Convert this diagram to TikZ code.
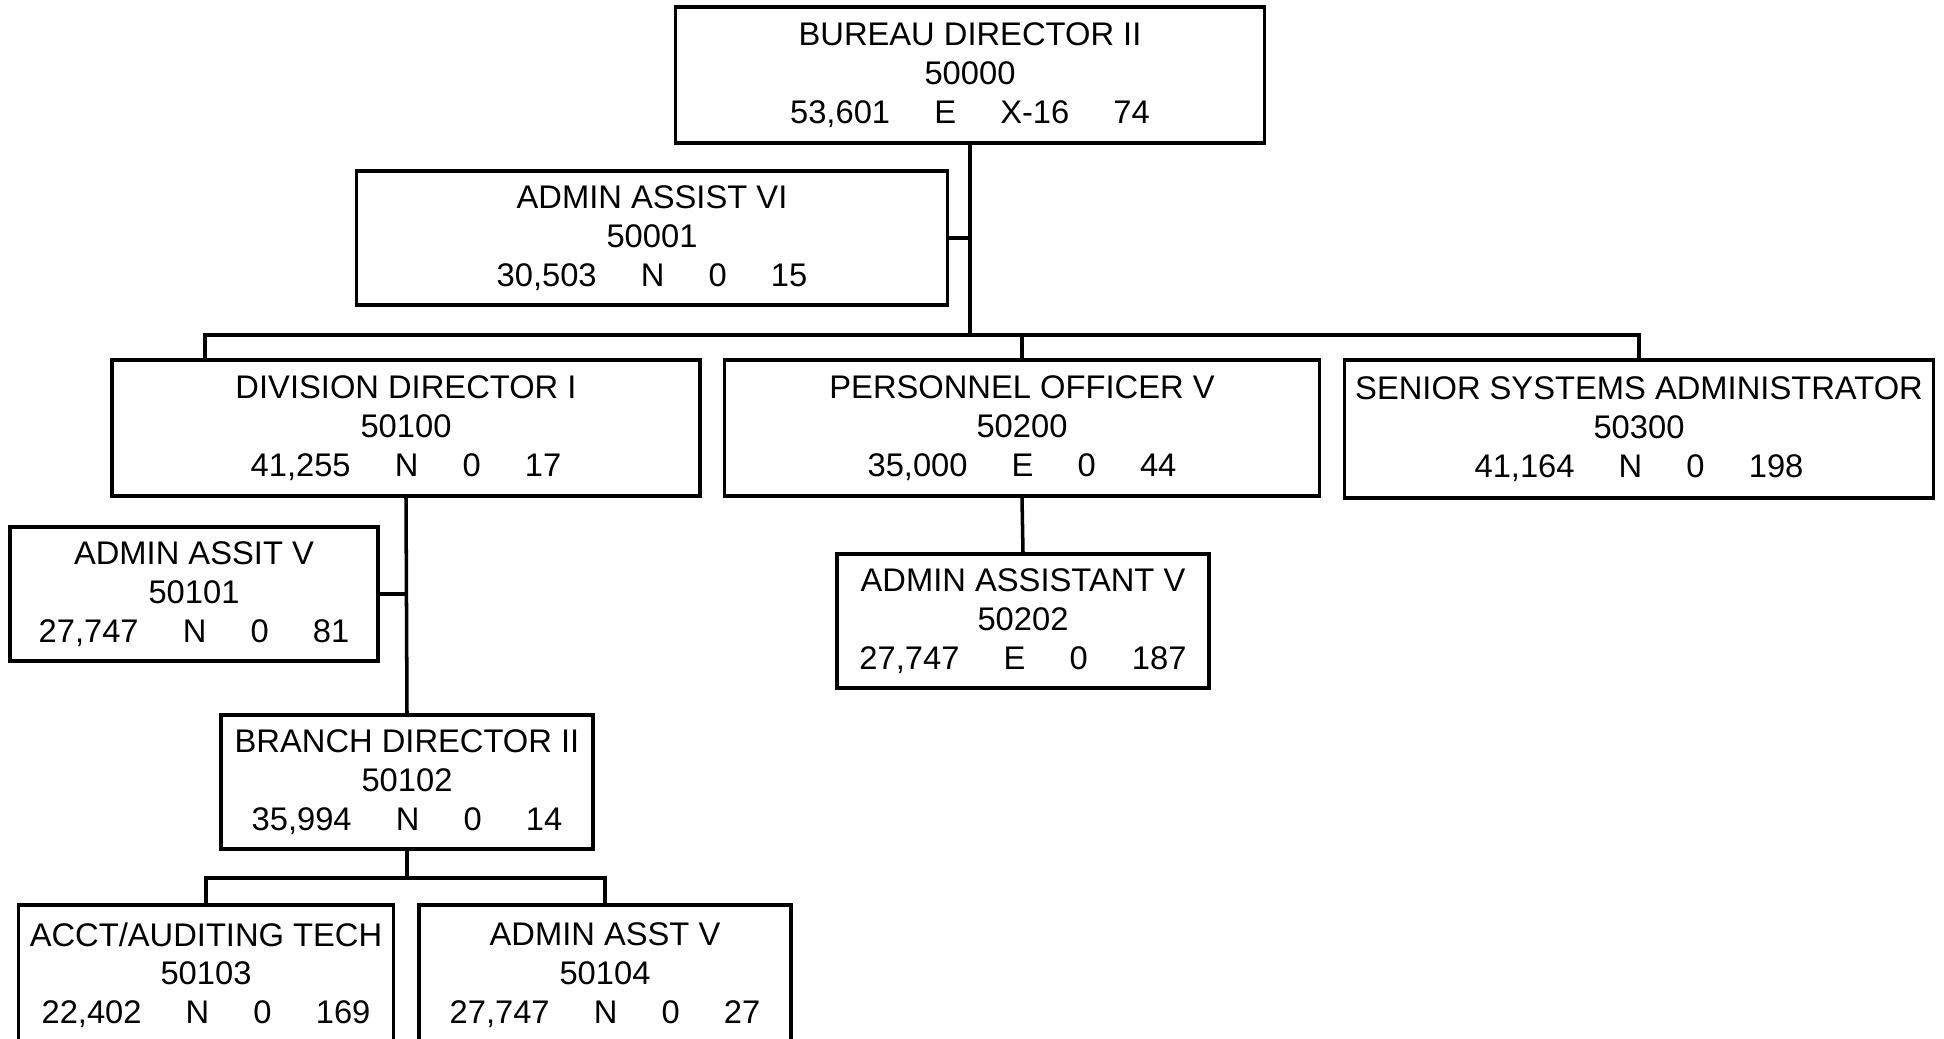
\documentclass[tikz,border=0pt]{standalone}
\usepackage{fontspec}
\setmainfont{Liberation Sans}
\usetikzlibrary{positioning}
\tikzstyle{posbox} = [draw, line width=1pt, inner sep=0pt, align=center, font=\fontsize{9.3}{11}\selectfont]
\tikzstyle{link} = [line width=1pt]
\newcommand{\posline}[4]{#1\hspace{1.35em}#2\hspace{1.35em}#3\hspace{1.35em}#4}

\begin{document}
\begin{tikzpicture}[x=0.01cm, y=-0.01cm]
\useasboundingbox (0,0) rectangle (1944,1039);

% Top of the bureau
\node[posbox, minimum width=5.89cm, minimum height=1.36cm] (bureau) at (970,75)
  {BUREAU DIRECTOR II\\50000\\\posline{53,601}{E}{X-16}{74}};
\node[posbox, minimum width=5.91cm, minimum height=1.34cm] (adminsix) at (652,238)
  {ADMIN ASSIST VI\\50001\\\posline{30,503}{N}{0}{15}};

% Second row
\node[posbox, minimum width=5.88cm, minimum height=1.36cm] (division) at (406,428)
  {DIVISION DIRECTOR I\\50100\\\posline{41,255}{N}{0}{17}};
\node[posbox, minimum width=5.95cm, minimum height=1.36cm] (personnel) at (1022,428)
  {PERSONNEL OFFICER V\\50200\\\posline{35,000}{E}{0}{44}};
\node[posbox, minimum width=5.89cm, minimum height=1.38cm] (senior) at (1639,429)
  {SENIOR SYSTEMS ADMINISTRATOR\\50300\\\posline{41,164}{N}{0}{198}};

% Under the divisions
\node[posbox, minimum width=3.68cm, minimum height=1.34cm] (admindiv) at (194,594)
  {ADMIN ASSIT V\\50101\\\posline{27,747}{N}{0}{81}};
\node[posbox, minimum width=3.72cm, minimum height=1.34cm] (adminpers) at (1023,621)
  {ADMIN ASSISTANT V\\50202\\\posline{27,747}{E}{0}{187}};
\node[posbox, minimum width=3.72cm, minimum height=1.34cm] (branch) at (407,782)
  {BRANCH DIRECTOR II\\50102\\\posline{35,994}{N}{0}{14}};

% Branch staff (cut by the page edge)
\node[posbox, minimum width=3.75cm, minimum height=1.40cm] (acct) at (206,975)
  {ACCT/AUDITING TECH\\50103\\\posline{22,402}{N}{0}{169}};
\node[posbox, minimum width=3.72cm, minimum height=1.40cm] (adminbr) at (605,975)
  {ADMIN ASST V\\50104\\\posline{27,747}{N}{0}{27}};

% Connectors
\coordinate (bus) at (970,335);
\coordinate (busleft) at (205,335);
\coordinate (fork) at (407,878);
\draw[link] (bureau.south) -- (bus);
\draw[link] (adminsix.east) -- (adminsix.east -| bus);
\draw[link] (busleft |- division.north) -- (busleft) -- (senior.north |- bus) -- (senior.north);
\draw[link] (personnel.north |- bus) -- (personnel.north);
\draw[link] (division.south) -- (branch.north);
\draw[link] (admindiv.east) -- (admindiv.east -| division.south);
\draw[link] (personnel.south) -- (adminpers.north);
\draw[link] (branch.south) -- (fork);
\draw[link] (acct.north) -- (acct.north |- fork) -- (adminbr.north |- fork) -- (adminbr.north);
\end{tikzpicture}
\end{document}
